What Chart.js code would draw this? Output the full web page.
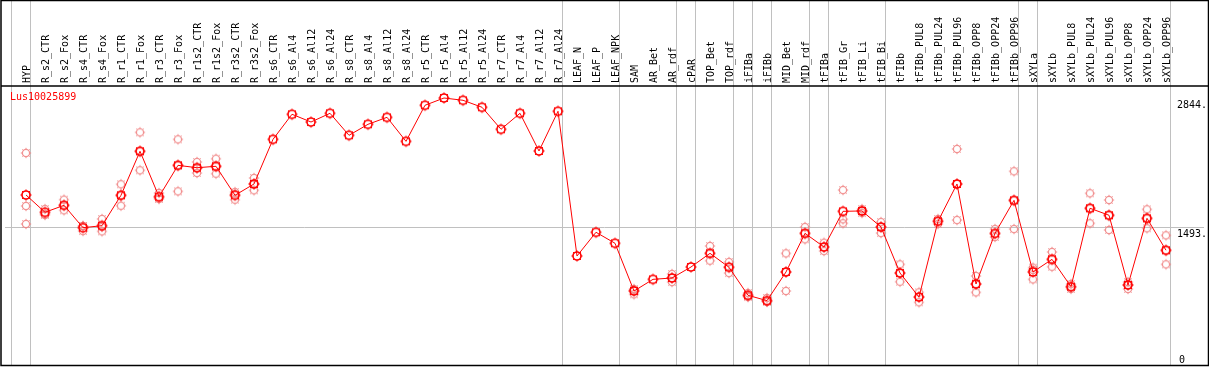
<!DOCTYPE html>
<html>
<head>
<meta charset="utf-8">
<script src="https://cdn.jsdelivr.net/npm/chart.js@4.4.1/dist/chart.umd.min.js"></script>
<style>
  html, body { margin: 0; padding: 0; background: #fff; }
  canvas { display: block; }
</style>
</head>
<body>
<canvas id="chart" width="1209" height="370"></canvas>
<script>
const title = 'Lus10025899';

const categories = [
  'HYP', 'R_s2_CTR', 'R_s2_Fox', 'R_s4_CTR', 'R_s4_Fox', 'R_r1_CTR', 'R_r1_Fox', 'R_r3_CTR', 'R_r3_Fox',
  'R_r1s2_CTR', 'R_r1s2_Fox', 'R_r3s2_CTR', 'R_r3s2_Fox', 'R_s6_CTR', 'R_s6_Al4', 'R_s6_Al12', 'R_s6_Al24',
  'R_s8_CTR', 'R_s8_Al4', 'R_s8_Al12', 'R_s8_Al24', 'R_r5_CTR', 'R_r5_Al4', 'R_r5_Al12', 'R_r5_Al24',
  'R_r7_CTR', 'R_r7_Al4', 'R_r7_Al12', 'R_r7_Al24', 'LEAF_N', 'LEAF_P', 'LEAF_NPK', 'SAM', 'AR_Bet', 'AR_rdf',
  'cPAR', 'TOP_Bet', 'TOP_rdf', 'iFIBa', 'iFIBb', 'MID_Bet', 'MID_rdf', 'tFIBa', 'tFIB_Gr', 'tFIB_Li', 'tFIB_Bi',
  'tFIBb', 'tFIBb_PUL8', 'tFIBb_PUL24', 'tFIBb_PUL96', 'tFIBb_OPP8', 'tFIBb_OPP24', 'tFIBb_OPP96',
  'sXYLa', 'sXYLb', 'sXYLb_PUL8', 'sXYLb_PUL24', 'sXYLb_PUL96', 'sXYLb_OPP8', 'sXYLb_OPP24', 'sXYLb_OPP96'
];

// mean expression per sample
const means = [
  1830, 1649, 1722, 1488, 1509, 1827, 2287, 1812, 2140,
  2115, 2130, 1827, 1945, 2412, 2674, 2593, 2684,
  2454, 2569, 2642, 2391, 2768, 2844, 2820, 2747,
  2517, 2684, 2290, 2705, 1192, 1440, 1325, 826, 948, 962,
  1077, 1220, 1074, 781, 725, 1025, 1429, 1286, 1659, 1663, 1495,
  1014, 763, 1555, 1945, 899, 1429, 1774,
  1025, 1157, 871, 1691, 1618, 889, 1586, 1252
];

// replicates (null where none is drawn)
const rep1 = [
  2269, 1683, 1781, 1506, 1579, 1942, 2485, 1851, 2412,
  2175, 2209, 1861, 2008, null, null, null, null,
  null, null, null, null, null, null, null, null,
  null, null, null, null, null, null, null, 792, null, 1004,
  null, 1297, 1129, 805, 753, 1220, 1495, 1331, 1882, 1683, 1547,
  1105, 812, 1579, 2311, 983, 1474, 2078,
  1070, 1234, 899, 1848, 1778, 920, 1680, 1408
];
const rep2 = [
  1715, 1631, 1670, 1453, 1450, 1718, 2088, 1791, 1868,
  2060, 2053, 1781, 1879, null, null, null, null,
  null, null, null, null, null, null, null, null,
  null, null, null, null, null, null, null, 847, null, 920,
  null, 1143, 1014, 763, 711, 826, 1367, 1244, 1576, 1663, 1432,
  923, 708, 1527, 1568, 812, 1391, 1474,
  948, 1080, 847, 1534, 1464, 847, 1482, 1105
];
const rep3 = [
  1527, 1621, 1720, 1506, 1495, 1825, 2287, 1793, 2140,
  2112, 2128, 1839, 1945, null, null, null, null,
  null, null, null, null, null, null, null, null,
  null, null, null, null, null, null, null, 836, null, 962,
  null, 1220, 1077, 774, 721, 1025, 1429, 1286, 1534, 1641, 1495,
  1014, 763, 1557, 1945, 899, 1422, 1774,
  1046, 1157, 868, 1691, 1618, 889, 1586, 1252
];

// value labels on the right and the reference line
const axisValues = [2844, 1493, 0];
const refLine = 1493;

// indices after which a grey separator is drawn (-1 = before first)
const groupEnds = [-1, 0, 28, 31, 34, 35, 37, 38, 39, 41, 42, 45, 52, 53, 60];

// plot geometry: first category centre, category step, where 0 and the max sit
const firstX = 26, stepX = 19;
const zeroY = 370, maxY = 98, maxVal = 2844;

const labelFont = '10px "DejaVu Sans Mono", monospace';

function makeMarker(color, r, lw) {
  const size = Math.ceil(r * 2 + 6);
  const c = document.createElement('canvas');
  c.width = size; c.height = size;
  const g = c.getContext('2d');
  const m = size / 2;
  g.strokeStyle = color;
  g.lineWidth = lw;
  g.beginPath();
  g.arc(m, m, r, 0, Math.PI * 2);
  g.stroke();
  g.lineWidth = 1;
  g.beginPath();
  for (let k = 0; k < 8; k++) {
    const a = k * Math.PI / 4;
    g.moveTo(m + Math.cos(a) * r, m + Math.sin(a) * r);
    g.lineTo(m + Math.cos(a) * (r + 1.6), m + Math.sin(a) * (r + 1.6));
  }
  g.stroke();
  return c;
}

const meanMarker = makeMarker('#ff0000', 4, 1.6);
const repMarker = makeMarker('rgba(240,130,130,0.85)', 3.6, 1.3);

const toPoints = arr => arr.map((v, i) => ({ x: i, y: v }));

const frame = {
  id: 'frame',
  beforeDatasetsDraw(chart) {
    const ctx = chart.ctx;
    const xs = chart.scales.x, ys = chart.scales.y;
    const a = chart.chartArea;
    ctx.save();
    ctx.strokeStyle = '#c0c0c0';
    ctx.lineWidth = 1;
    // separators
    groupEnds.forEach(i => {
      const px = Math.round(xs.getPixelForValue(i)) + 4.5;
      ctx.beginPath();
      ctx.moveTo(px, 0);
      ctx.lineTo(px, a.bottom);
      ctx.stroke();
    });
    // reference line
    const ry = Math.round(ys.getPixelForValue(refLine)) + 0.5;
    ctx.beginPath();
    ctx.moveTo(a.left, ry);
    ctx.lineTo(a.right, ry);
    ctx.stroke();
    ctx.restore();
  },
  afterDatasetsDraw(chart) {
    const ctx = chart.ctx;
    const xs = chart.scales.x, ys = chart.scales.y;
    const a = chart.chartArea;
    ctx.save();
    // right value labels
    ctx.font = labelFont;
    ctx.textAlign = 'left';
    axisValues.forEach(v => {
      const py = ys.getPixelForValue(v);
      const txt = v === 0 ? '0' : v + '.';
      const w = ctx.measureText(txt).width;
      let top = py + 2;
      if (top + 11 > a.bottom) top = a.bottom - 10;
      ctx.fillStyle = '#fff';
      ctx.fillRect(1176, top, w + 2, 10);
      ctx.fillStyle = '#000';
      ctx.textBaseline = 'top';
      ctx.fillText(txt, v === 0 ? 1179 : 1177, top);
    });
    // category labels
    ctx.fillStyle = '#000';
    ctx.textBaseline = 'alphabetic';
    categories.forEach((c, i) => {
      const px = xs.getPixelForValue(i);
      ctx.save();
      ctx.translate(Math.round(px) + 4, 83);
      ctx.rotate(-Math.PI / 2);
      ctx.fillText(c, 0, 0);
      ctx.restore();
    });
    // title
    ctx.fillStyle = '#ff0000';
    ctx.textBaseline = 'top';
    ctx.fillText(title, 10, 92);
    // borders
    ctx.strokeStyle = '#000';
    ctx.lineWidth = 1.5;
    ctx.strokeRect(1, 0.5, 1207.5, a.bottom);
    ctx.beginPath();
    ctx.moveTo(1, 86);
    ctx.lineTo(1208, 86);
    ctx.stroke();
    ctx.restore();
  }
};

const repStyle = {
  showLine: false,
  pointStyle: repMarker,
  order: 2
};

const chart = new Chart(document.getElementById('chart'), {
  type: 'line',
  data: {
    datasets: [
      { label: 'rep1', data: toPoints(rep1), ...repStyle },
      { label: 'rep2', data: toPoints(rep2), ...repStyle },
      { label: 'rep3', data: toPoints(rep3), ...repStyle },
      {
        label: title,
        data: toPoints(means),
        borderColor: '#ff0000',
        borderWidth: 1,
        tension: 0,
        pointStyle: meanMarker,
        order: 0
      }
    ]
  },
  options: {
    responsive: false,
    animation: false,
    devicePixelRatio: 1,
    layout: { padding: { left: 1, right: 1, top: 86, bottom: 1 } },
    plugins: { legend: { display: false }, tooltip: { enabled: false } },
    scales: {
      x: { type: 'linear', min: -1.3, max: 62.2, display: false },
      y: { type: 'linear', min: -10, max: 2970, display: false }
    }
  },
  plugins: [frame]
});

// fit scale ranges to the actual chart area so categories sit on the 19px grid
const area = chart.chartArea;
const perPx = maxVal / (zeroY - maxY);
chart.options.scales.x.min = (area.left - firstX) / stepX;
chart.options.scales.x.max = (area.right - firstX) / stepX;
chart.options.scales.y.min = (zeroY - area.bottom) * perPx;
chart.options.scales.y.max = (zeroY - area.top) * perPx;
chart.update();
</script>
</body>
</html>
